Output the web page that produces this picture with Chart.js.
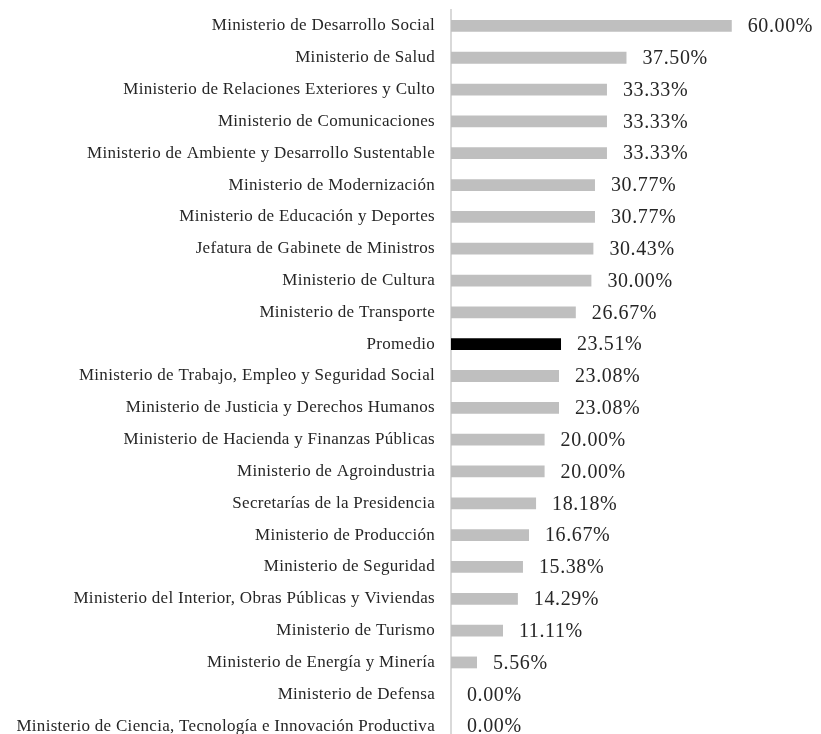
<!DOCTYPE html>
<html>
<head>
<meta charset="utf-8">
<script src="https://cdn.jsdelivr.net/npm/chart.js@4"></script>
<style>
  html, body { margin: 0; padding: 0; background: #fff; overflow: hidden; }
  #wrap { width: 821px; height: 744px; }
</style>
</head>
<body>
<div id="wrap"><canvas id="grafico" width="821" height="744"></canvas></div>
<script>
// Categorías (ministerios) y porcentajes
const ministerios = [
    'Ministerio de Desarrollo Social',
    'Ministerio de Salud',
    'Ministerio de Relaciones Exteriores y Culto',
    'Ministerio de Comunicaciones',
    'Ministerio de Ambiente y Desarrollo Sustentable',
    'Ministerio de Modernización',
    'Ministerio de Educación y Deportes',
    'Jefatura de Gabinete de Ministros',
    'Ministerio de Cultura',
    'Ministerio de Transporte',
    'Promedio',
    'Ministerio de Trabajo, Empleo y Seguridad Social',
    'Ministerio de Justicia y Derechos Humanos',
    'Ministerio de Hacienda y Finanzas Públicas',
    'Ministerio de Agroindustria',
    'Secretarías de la Presidencia',
    'Ministerio de Producción',
    'Ministerio de Seguridad',
    'Ministerio del Interior, Obras Públicas y Viviendas',
    'Ministerio de Turismo',
    'Ministerio de Energía y Minería',
    'Ministerio de Defensa',
    'Ministerio de Ciencia, Tecnología e Innovación Productiva'
];
const porcentajes = [60.00, 37.50, 33.33, 33.33, 33.33, 30.77, 30.77, 30.43, 30.00, 26.67,
    23.51, 23.08, 23.08, 20.00, 20.00, 18.18, 16.67, 15.38, 14.29, 11.11, 5.56, 0.00, 0.00];

const fuente = '"Liberation Serif", "Times New Roman", serif';

// Colores: gris para ministerios, negro para el promedio
const colores = ministerios.map(m => m === 'Promedio' ? '#000000' : '#bfbfbf');

// Espaciado de letras un poco más abierto, como en el original
const espaciado = {
    id: 'espaciado',
    beforeLayout(chart) { chart.ctx.letterSpacing = '0.3px'; },
    beforeDraw(chart) { chart.ctx.letterSpacing = '0.3px'; }
};

// Plugin simple para escribir el valor al lado de cada barra
const etiquetasValor = {
    id: 'etiquetasValor',
    afterDatasetsDraw(chart) {
        const ctx = chart.ctx;
        const meta = chart.getDatasetMeta(0);
        ctx.save();
        ctx.font = '20px ' + fuente;
        ctx.letterSpacing = '0.6px';
        ctx.fillStyle = '#262626';
        ctx.textAlign = 'left';
        ctx.textBaseline = 'middle';
        meta.data.forEach((barra, i) => {
            ctx.fillText(porcentajes[i].toFixed(2) + '%', barra.x + 16, barra.y + 1);
        });
        ctx.restore();
    }
};

const chart = new Chart(document.getElementById('grafico').getContext('2d'), {
    type: 'bar',
    data: {
        labels: ministerios,
        datasets: [{
            data: porcentajes,
            backgroundColor: colores,
            borderWidth: 0,
            barPercentage: 0.37,
            categoryPercentage: 1.0
        }]
    },
    options: {
        indexAxis: 'y',
        responsive: false,
        animation: false,
        layout: { padding: { top: 10, right: 5, bottom: 2, left: 0 } },
        plugins: {
            legend: { display: false },
            tooltip: { enabled: false }
        },
        scales: {
            x: {
                display: false,
                min: 0,
                max: 78
            },
            y: {
                grid: { display: false, drawTicks: false },
                border: { display: true, color: '#d9d9d9', width: 2 },
                ticks: {
                    padding: 16,
                    color: '#262626',
                    autoSkip: false,
                    font: { family: fuente, size: 17 }
                },
                afterFit(scale) {
                    scale.width = 451;
                    scale.paddingTop = 0;
                    scale.paddingBottom = 0;
                }
            }
        }
    },
    plugins: [espaciado, etiquetasValor]
});
</script>
</body>
</html>
